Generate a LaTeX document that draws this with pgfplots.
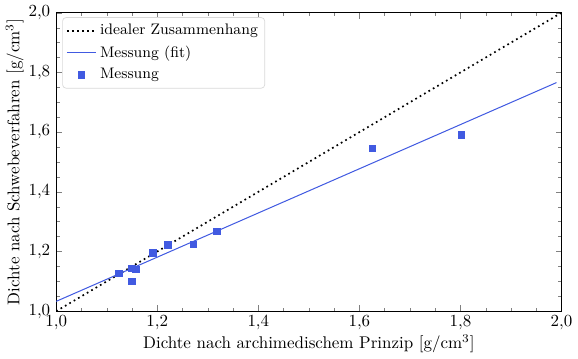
\documentclass[border=0pt]{standalone}
\usepackage{pgfplots}
\pgfplotsset{compat=1.18}
\definecolor{fitblue}{RGB}{65,90,225}
\begin{document}
\begin{tikzpicture}
\begin{axis}[
  scale only axis,
  width=298pt, height=176pt,
  xmin=1, xmax=2, ymin=1, ymax=2,
  xtick={1,1.2,...,2.01}, ytick={1,1.2,...,2.01},
  minor tick num=3,
  tick align=inside,
  xtick pos=both, ytick pos=both,
  major tick length=3.5pt, minor tick length=2pt,
  /pgf/number format/.cd, use comma, fixed, fixed zerofill, precision=1,
  /pgfplots/.cd,
  xlabel={Dichte nach archimedischem Prinzip [g/cm$^3$]},
  ylabel={Dichte nach Schwebeverfahren [g/cm$^3$]},
  xlabel style={yshift=4pt},
  ylabel style={yshift=-4pt},
  xticklabel style={yshift=1pt},
  legend pos=north west,
  legend cell align=left,
  legend style={draw=black!15, rounded corners=2pt, font=\small, inner sep=2pt, row sep=1pt, at={(0.012,0.985)}},
  axis line style={line width=0.8pt},
]
\addplot[black, dotted, line width=1pt] coordinates {(1,1) (2,2)};
\addlegendentry{idealer Zusammenhang}
\addplot[fitblue, line width=0.6pt] coordinates {(1,1.033) (1.99,1.766)};
\addlegendentry{Messung (fit)}
\addplot[only marks, mark=square*, mark size=1.9pt, fitblue, mark options={fill=fitblue}] coordinates {
(1.124,1.127) (1.150,1.144) (1.158,1.140) (1.150,1.100) (1.191,1.196)
(1.221,1.222) (1.271,1.224) (1.318,1.268) (1.626,1.546) (1.802,1.591)};
\addlegendentry{Messung}
\end{axis}
\end{tikzpicture}
\end{document}
